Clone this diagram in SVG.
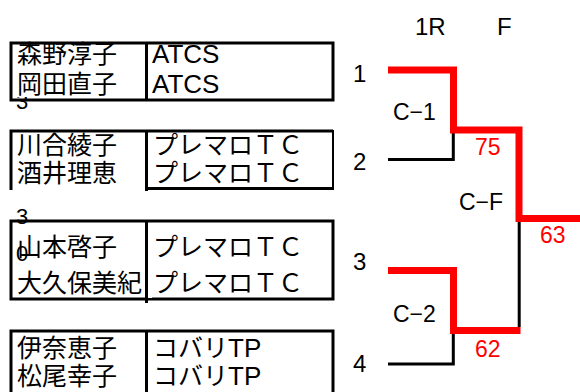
<svg xmlns="http://www.w3.org/2000/svg" width="580" height="392" viewBox="0 0 580 392">
<style>
.t{font-family:"Liberation Sans","Noto Sans CJK JP",sans-serif;font-size:26px;fill:#000}
.j{font-family:"Noto Sans CJK JP",sans-serif;font-size:25px;fill:#000}
.l{font-family:"Liberation Sans","Noto Sans CJK JP",sans-serif;font-size:24px;fill:#000}
.s{font-family:"Liberation Sans",sans-serif;font-size:22px;fill:#000}
.r{font-family:"Liberation Sans",sans-serif;font-size:23px;fill:#ff0000}
.c{font-family:"Liberation Sans",sans-serif;font-size:23px;fill:#000}
.b{fill:none;stroke:#000;stroke-width:3}
.thin{fill:none;stroke:#000;stroke-width:2}
.red{fill:none;stroke:#ff0000;stroke-width:7;stroke-linejoin:miter}
.blk{fill:none;stroke:#000;stroke-width:3}
</style>
<defs>
<clipPath id="cl3"><rect x="0" y="97" width="60" height="20"/></clipPath>
</defs>
<rect width="580" height="392" fill="#fff"/>

<g id="entry1">
<rect class="b" x="11" y="43" width="322" height="57"/>
<line class="b" x1="146.5" y1="43" x2="146.5" y2="100"/>
<text class="j" x="17" y="63">森野淳子</text>
<text class="j" x="17" y="93">岡田直子</text>
<text class="t" x="152" y="63">ATCS</text>
<text class="t" x="152" y="93">ATCS</text>
<text class="s" x="16" y="109" clip-path="url(#cl3)">3</text>
</g>

<g id="entry2">
<polyline class="b" points="11,190 11,131 333,131"/>
<line class="b" x1="146.5" y1="131" x2="146.5" y2="191"/>
<line class="b" x1="145" y1="188.5" x2="334" y2="188.5"/>
<line class="thin" x1="333" y1="130" x2="333" y2="190"/>
<text class="j" x="17" y="154">川合綾子</text>
<text class="j" x="17" y="182">酒井理恵</text>
<text class="j" x="153" y="154">プレマロＴＣ</text>
<text class="j" x="153" y="182">プレマロＴＣ</text>
</g>

<g id="entry3">
<rect class="b" x="11" y="221" width="322" height="78"/>
<line class="b" x1="146.5" y1="221" x2="146.5" y2="303"/>
<text class="s" x="16" y="224">3</text>
<text class="j" x="17" y="256">山本啓子</text>
<text class="s" x="16" y="261">0</text>
<text class="j" x="17" y="292">大久保美紀</text>
<rect x="148" y="270" width="4" height="28" fill="#fff"/>
<line class="b" x1="146.5" y1="221" x2="146.5" y2="303"/>
<text class="j" x="153" y="256">プレマロＴＣ</text>
<text class="j" x="153" y="292">プレマロＴＣ</text>
</g>

<g id="entry4">
<polyline class="b" points="11,392 11,331 333,331 333,392"/>
<line class="b" x1="146.5" y1="331" x2="146.5" y2="392"/>
<text class="j" x="17" y="357">伊奈恵子</text>
<text class="j" x="17" y="385">松尾幸子</text>
<text class="j" x="153" y="357">コバリ<tspan class="t">TP</tspan></text>
<text class="j" x="153" y="385">コバリ<tspan class="t">TP</tspan></text>
</g>

<g id="headers">
<text class="l" x="415" y="35">1R</text>
<text class="l" x="497" y="35">F</text>
</g>

<g id="seeds">
<text class="l" x="353" y="82">1</text>
<text class="l" x="353" y="170">2</text>
<text class="l" x="353" y="270">3</text>
<text class="l" x="353" y="372">4</text>
</g>

<g id="connectors">
<path class="blk" d="M388,159.5 H453.3 V133"/>
<path class="blk" d="M388,364 H453.3 V334"/>
<path class="blk" d="M519.2,222 V327"/>
<path class="red" d="M388,70 H453.5 V130 H519 V218.5 H580"/>
<path class="red" d="M388,270.5 H453.5 V330.5 H520.5"/>
</g>

<g id="match-labels">
<text class="c" x="393" y="120">C−1</text>
<text class="r" x="475" y="155">75</text>
<text class="c" x="459" y="210">C−F</text>
<text class="r" x="540" y="243">63</text>
<text class="c" x="393" y="322">C−2</text>
<text class="r" x="475" y="357">62</text>
</g>
</svg>
